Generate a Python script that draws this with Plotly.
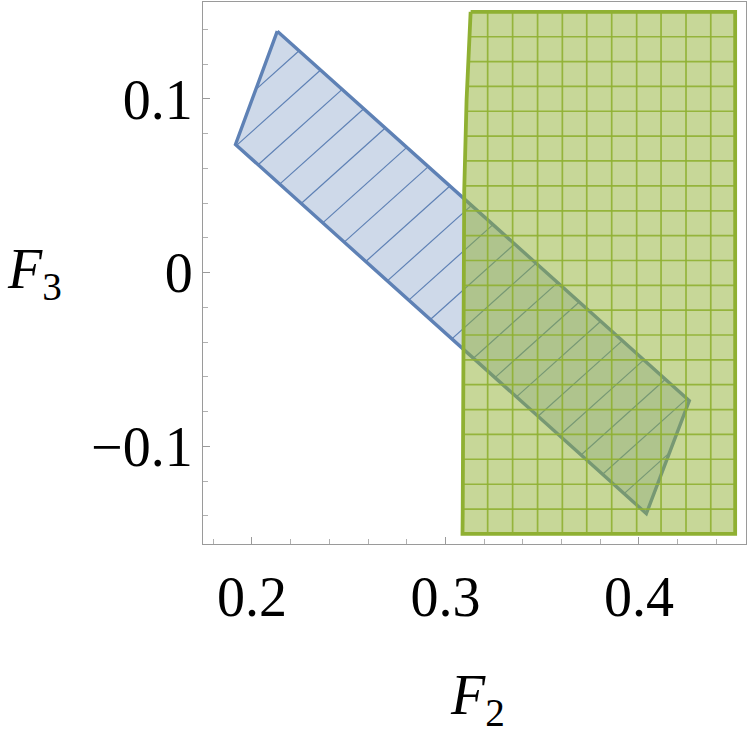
import plotly.graph_objects as go

# region outlines (F2, F3)
blue_f2 = [0.2131, 0.4260, 0.4038, 0.1915]
blue_f3 = [0.1390, -0.0737, -0.1387, 0.0738]

green_f2 = [0.3130, 0.4497, 0.4497, 0.3088, 0.3089, 0.3092, 0.3097, 0.3109]
green_f3 = [0.1501, 0.1501, -0.1504, -0.1504, -0.1384, -0.0159, 0.0476, 0.0994]

# mesh lines: blue hatch is F3 - F2 = const, green mesh is a grid
blue_hatch = [-0.0966, -0.1188, -0.1411, -0.1634, -0.1856, -0.2079, -0.2301,
              -0.2524, -0.2747, -0.2969, -0.3192, -0.3414, -0.3637, -0.3860,
              -0.4082, -0.4305, -0.4527, -0.4750, -0.4973, -0.5195]
green_mesh_f2 = [0.3218, 0.3347, 0.3476, 0.3604, 0.3730, 0.3859, 0.3988,
                 0.4114, 0.4243, 0.4371]
green_mesh_f3 = [0.1358, 0.1215, 0.1072, 0.0929, 0.0786, 0.0643, 0.0499,
                 0.0356, 0.0213, 0.0070, -0.0073, -0.0216, -0.0359, -0.0502,
                 -0.0645, -0.0788, -0.0931, -0.1074, -0.1218, -0.1361]

x_ticks = [0.2, 0.3, 0.4]
x_labels = ["0.2", "0.3", "0.4"]
y_ticks = [-0.1, 0, 0.1]
y_labels = ["\u22120.1", "0", "0.1"]

BLUE = "#5E81B5"
GREEN = "#8FB032"
FONT = "Liberation Serif"


def clip(px, py, a, b, c):
    # segment of the line a*x + b*y = c inside a convex polygon
    pts = []
    n = len(px)
    for i in range(n):
        x0, y0 = px[i], py[i]
        x1, y1 = px[(i + 1) % n], py[(i + 1) % n]
        f0 = a * x0 + b * y0 - c
        f1 = a * x1 + b * y1 - c
        if f0 == f1 or f0 * f1 > 0:
            continue
        t = f0 / (f0 - f1)
        pts.append((x0 + t * (x1 - x0), y0 + t * (y1 - y0)))
    if len(pts) < 2:
        return None
    pts.sort(key=lambda p: -b * p[0] + a * p[1])
    return pts[0], pts[-1]


def segments(px, py, lines):
    xs, ys = [], []
    for a, b, c in lines:
        seg = clip(px, py, a, b, c)
        if seg:
            xs += [seg[0][0], seg[1][0], None]
            ys += [seg[0][1], seg[1][1], None]
    return xs, ys


fig = go.Figure()

fig.add_trace(go.Scatter(
    x=blue_f2 + blue_f2[:1], y=blue_f3 + blue_f3[:1],
    fill="toself", fillcolor="rgba(94,129,181,0.3)",
    mode="lines", line=dict(color="rgba(0,0,0,0)", width=0),
    hoverinfo="skip", showlegend=False))
hx, hy = segments(blue_f2, blue_f3, [(-1, 1, c) for c in blue_hatch])
fig.add_trace(go.Scatter(x=hx, y=hy, mode="lines",
                         line=dict(color=BLUE, width=1.2),
                         hoverinfo="skip", showlegend=False))
fig.add_trace(go.Scatter(
    x=blue_f2 + blue_f2[:1], y=blue_f3 + blue_f3[:1], mode="lines",
    line=dict(color=BLUE, width=3.4), hoverinfo="skip", showlegend=False))

fig.add_trace(go.Scatter(
    x=green_f2 + green_f2[:1], y=green_f3 + green_f3[:1],
    fill="toself", fillcolor="rgba(143,176,50,0.5)",
    mode="lines", line=dict(color="rgba(0,0,0,0)", width=0),
    hoverinfo="skip", showlegend=False))
mesh = [(1, 0, v) for v in green_mesh_f2] + [(0, 1, h) for h in green_mesh_f3]
gx, gy = segments(green_f2, green_f3, mesh)
fig.add_trace(go.Scatter(x=gx, y=gy, mode="lines",
                         line=dict(color="rgba(143,176,50,0.9)", width=1.7),
                         hoverinfo="skip", showlegend=False))
fig.add_trace(go.Scatter(
    x=green_f2 + green_f2[:1], y=green_f3 + green_f3[:1], mode="lines",
    line=dict(color=GREEN, width=3.8), hoverinfo="skip", showlegend=False))

axis_common = dict(
    showgrid=False, zeroline=False, showline=True, mirror=True,
    automargin=False,
    linecolor="#9a9a9a", linewidth=1.2,
    ticks="inside", ticklen=7, tickwidth=1, tickcolor="#9a9a9a",
    tickfont=dict(family=FONT, size=56, color="black"),
    minor=dict(dtick=0.02, ticks="inside", ticklen=4.5, tickwidth=1,
               tickcolor="#b0b0b0"),
)

fig.update_xaxes(range=[0.1747, 0.4553], tickvals=x_ticks, ticktext=x_labels,
                 ticklabelstandoff=4, **axis_common)
fig.update_yaxes(range=[-0.1562, 0.1558], tickvals=y_ticks, ticktext=y_labels,
                 ticklabelstandoff=-2, **axis_common)

fig.add_annotation(text="<i>F</i><sub>2</sub>", xref="paper", yref="paper",
                   x=0.506, y=-0.218, xanchor="center", yanchor="top",
                   showarrow=False, font=dict(family=FONT, size=56, color="black"))
fig.add_annotation(text="<i>F</i><sub>3</sub>", xref="paper", yref="y",
                   x=-0.31, y=0, xanchor="center", yanchor="middle",
                   showarrow=False, font=dict(family=FONT, size=56, color="black"))

fig.update_layout(
    width=747, height=737,
    margin=dict(l=203, r=1, t=2, b=193),
    plot_bgcolor="white", paper_bgcolor="white",
    showlegend=False,
)

# the page body has a default 8px margin; drop it so the figure sits at 0,0
fig.write_html("out.html", config={"displayModeBar": False},
               post_script="document.body.style.margin='0';")
